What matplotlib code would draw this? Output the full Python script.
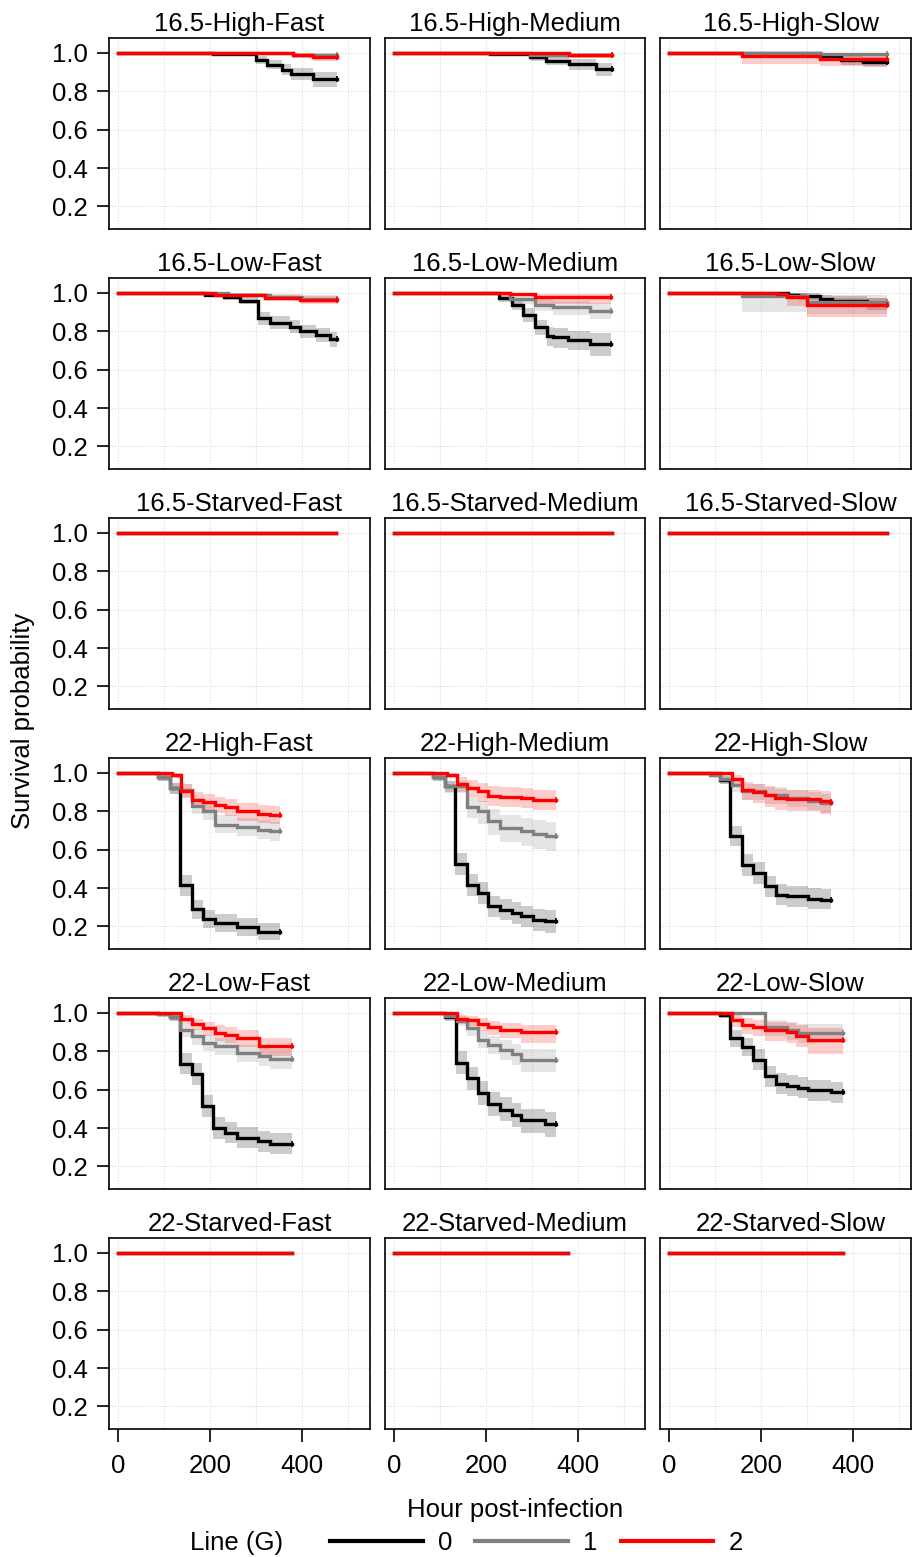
import matplotlib
matplotlib.use("Agg")
import matplotlib.pyplot as plt
from matplotlib.lines import Line2D

plt.rcParams['font.family'] = ['Liberation Sans', 'DejaVu Sans']

# ---------------- categories ----------------
temps = ['16.5', '22']
foods = ['High', 'Low', 'Starved']
speeds = ['Fast', 'Medium', 'Slow']
line_labels = ['0', '1', '2']
line_colors = ['#000000', '#808080', '#FF0000']
x_ticks = [0, 200, 400]
y_ticks = [0.2, 0.4, 0.6, 0.8, 1.0]

# ---------------- data: time, survival, lower CI, upper CI ----------------
# 16.5 - High - Fast
t_165_HF_0 = [0, 207, 301, 323, 356, 377, 424, 475]
s_165_HF_0 = [1, 0.995, 0.965, 0.939, 0.913, 0.892, 0.864, 0.864]
lo_165_HF_0 = [1, 0.985, 0.945, 0.915, 0.885, 0.86, 0.825, 0.825]
hi_165_HF_0 = [1, 1, 0.985, 0.965, 0.94, 0.92, 0.9, 0.9]
t_165_HF_1 = [0, 381, 475]
s_165_HF_1 = [1, 0.99, 0.99]
lo_165_HF_1 = [1, 0.975, 0.975]
hi_165_HF_1 = [1, 1, 1]
t_165_HF_2 = [0, 381, 424, 475]
s_165_HF_2 = [1, 0.99, 0.979, 0.979]
lo_165_HF_2 = [1, 0.975, 0.96, 0.96]
hi_165_HF_2 = [1, 1, 0.995, 0.995]

# 16.5 - High - Medium
t_165_HM_0 = [0, 209, 296, 330, 380, 440, 474]
s_165_HM_0 = [1, 0.995, 0.98, 0.96, 0.94, 0.915, 0.915]
lo_165_HM_0 = [1, 0.985, 0.96, 0.935, 0.91, 0.88, 0.88]
hi_165_HM_0 = [1, 1, 0.995, 0.985, 0.97, 0.95, 0.95]
t_165_HM_1 = [0, 296, 474]
s_165_HM_1 = [1, 0.99, 0.99]
lo_165_HM_1 = [1, 0.975, 0.975]
hi_165_HM_1 = [1, 1, 1]
t_165_HM_2 = [0, 380, 474]
s_165_HM_2 = [1, 0.99, 0.99]
lo_165_HM_2 = [1, 0.975, 0.975]
hi_165_HM_2 = [1, 1, 1]

# 16.5 - High - Slow
t_165_HS_0 = [0, 328, 374, 422, 474]
s_165_HS_0 = [1, 0.985, 0.962, 0.953, 0.953]
lo_165_HS_0 = [1, 0.965, 0.935, 0.925, 0.925]
hi_165_HS_0 = [1, 1, 0.985, 0.98, 0.98]
t_165_HS_1 = [0, 328, 474]
s_165_HS_1 = [1, 0.995, 0.995]
lo_165_HS_1 = [1, 0.98, 0.98]
hi_165_HS_1 = [1, 1, 1]
t_165_HS_2 = [0, 158, 328, 474]
s_165_HS_2 = [1, 0.982, 0.97, 0.97]
lo_165_HS_2 = [1, 0.94, 0.93, 0.93]
hi_165_HS_2 = [1, 1, 0.995, 0.995]

# 16.5 - Low - Fast
t_165_LF_0 = [0, 190, 230, 265, 304, 330, 374, 396, 430, 461, 476]
s_165_LF_0 = [1, 0.99, 0.98, 0.96, 0.87, 0.845, 0.825, 0.80, 0.78, 0.76, 0.76]
lo_165_LF_0 = [1, 0.98, 0.965, 0.94, 0.835, 0.81, 0.79, 0.765, 0.745, 0.72, 0.72]
hi_165_LF_0 = [1, 1, 0.995, 0.98, 0.9, 0.88, 0.86, 0.835, 0.815, 0.795, 0.795]
t_165_LF_1 = [0, 240, 330, 400, 476]
s_165_LF_1 = [1, 0.99, 0.98, 0.97, 0.97]
lo_165_LF_1 = [1, 0.98, 0.965, 0.95, 0.95]
hi_165_LF_1 = [1, 1, 0.995, 0.99, 0.99]
t_165_LF_2 = [0, 211, 320, 396, 476]
s_165_LF_2 = [1, 0.99, 0.975, 0.965, 0.965]
lo_165_LF_2 = [1, 0.98, 0.96, 0.945, 0.945]
hi_165_LF_2 = [1, 1, 0.99, 0.985, 0.985]

# 16.5 - Low - Medium
t_165_LM_0 = [0, 229, 256, 281, 307, 332, 345, 378, 426, 472]
s_165_LM_0 = [1, 0.974, 0.939, 0.887, 0.823, 0.774, 0.769, 0.756, 0.736, 0.736]
lo_165_LM_0 = [1, 0.955, 0.91, 0.85, 0.78, 0.725, 0.715, 0.70, 0.67, 0.67]
hi_165_LM_0 = [1, 0.99, 0.965, 0.92, 0.86, 0.82, 0.815, 0.80, 0.79, 0.79]
t_165_LM_1 = [0, 252, 307, 345, 426, 472]
s_165_LM_1 = [1, 0.969, 0.939, 0.925, 0.908, 0.908]
lo_165_LM_1 = [1, 0.945, 0.905, 0.885, 0.865, 0.865]
hi_165_LM_1 = [1, 0.99, 0.97, 0.96, 0.95, 0.95]
t_165_LM_2 = [0, 252, 307, 472]
s_165_LM_2 = [1, 0.995, 0.979, 0.979]
lo_165_LM_2 = [1, 0.985, 0.945, 0.945]
hi_165_LM_2 = [1, 1, 0.995, 0.995]

# 16.5 - Low - Slow
t_165_LS_0 = [0, 234, 258, 281, 329, 354, 430, 473]
s_165_LS_0 = [1, 0.998, 0.99, 0.985, 0.97, 0.96, 0.945, 0.945]
lo_165_LS_0 = [1, 0.99, 0.975, 0.965, 0.945, 0.93, 0.91, 0.91]
hi_165_LS_0 = [1, 1, 1, 1, 0.99, 0.985, 0.975, 0.975]
t_165_LS_1 = [0, 158, 300, 473]
s_165_LS_1 = [1, 0.985, 0.955, 0.955]
lo_165_LS_1 = [1, 0.9, 0.89, 0.89]
hi_165_LS_1 = [1, 1, 0.99, 0.99]
t_165_LS_2 = [0, 234, 256, 300, 473]
s_165_LS_2 = [1, 0.995, 0.981, 0.939, 0.939]
lo_165_LS_2 = [1, 0.975, 0.93, 0.875, 0.875]
hi_165_LS_2 = [1, 1, 1, 0.975, 0.975]

# 16.5 - Starved (no deaths)
t_165_S = [0, 474]
s_165_S = [1, 1]

# 22 - High - Fast
t_22_HF_0 = [0, 88, 113, 135, 160, 185, 211, 258, 305, 352]
s_22_HF_0 = [1, 0.98, 0.922, 0.417, 0.29, 0.238, 0.217, 0.197, 0.171, 0.171]
lo_22_HF_0 = [1, 0.96, 0.89, 0.36, 0.24, 0.19, 0.17, 0.15, 0.13, 0.13]
hi_22_HF_0 = [1, 0.995, 0.95, 0.47, 0.34, 0.285, 0.265, 0.245, 0.22, 0.22]
t_22_HF_1 = [0, 88, 113, 138, 160, 185, 211, 258, 305, 330, 352]
s_22_HF_1 = [1, 0.98, 0.922, 0.91, 0.829, 0.804, 0.73, 0.718, 0.704, 0.695, 0.695]
lo_22_HF_1 = [1, 0.96, 0.89, 0.875, 0.785, 0.755, 0.685, 0.67, 0.655, 0.645, 0.645]
hi_22_HF_1 = [1, 0.995, 0.95, 0.94, 0.87, 0.845, 0.78, 0.765, 0.755, 0.745, 0.745]
t_22_HF_2 = [0, 117, 138, 160, 185, 211, 232, 258, 305, 330, 352]
s_22_HF_2 = [1, 0.99, 0.908, 0.861, 0.848, 0.835, 0.823, 0.80, 0.788, 0.783, 0.783]
lo_22_HF_2 = [1, 0.975, 0.87, 0.82, 0.805, 0.79, 0.775, 0.75, 0.74, 0.735, 0.735]
hi_22_HF_2 = [1, 1, 0.94, 0.9, 0.89, 0.875, 0.865, 0.845, 0.835, 0.83, 0.83]

# 22 - High - Medium
t_22_HM_0 = [0, 85, 111, 132, 159, 183, 205, 230, 256, 277, 303, 328, 352]
s_22_HM_0 = [1, 0.98, 0.93, 0.527, 0.417, 0.374, 0.304, 0.287, 0.27, 0.252, 0.235, 0.226, 0.226]
lo_22_HM_0 = [1, 0.96, 0.9, 0.47, 0.36, 0.315, 0.25, 0.232, 0.212, 0.195, 0.178, 0.168, 0.168]
hi_22_HM_0 = [1, 0.995, 0.96, 0.585, 0.475, 0.43, 0.36, 0.342, 0.325, 0.308, 0.292, 0.285, 0.285]
t_22_HM_1 = [0, 85, 111, 159, 183, 205, 230, 277, 303, 330, 352]
s_22_HM_1 = [1, 0.98, 0.93, 0.823, 0.80, 0.748, 0.713, 0.696, 0.683, 0.67, 0.67]
lo_22_HM_1 = [1, 0.96, 0.895, 0.765, 0.735, 0.675, 0.64, 0.62, 0.605, 0.595, 0.595]
hi_22_HM_1 = [1, 0.995, 0.96, 0.875, 0.855, 0.81, 0.78, 0.765, 0.755, 0.745, 0.745]
t_22_HM_2 = [0, 115, 136, 159, 183, 205, 230, 277, 303, 352]
s_22_HM_2 = [1, 0.99, 0.944, 0.922, 0.904, 0.882, 0.875, 0.87, 0.861, 0.861]
lo_22_HM_2 = [1, 0.975, 0.9, 0.875, 0.85, 0.83, 0.82, 0.815, 0.805, 0.805]
hi_22_HM_2 = [1, 1, 0.98, 0.965, 0.95, 0.93, 0.925, 0.92, 0.91, 0.91]

# 22 - High - Slow
t_22_HS_0 = [0, 111, 133, 158, 183, 209, 232, 256, 303, 330, 353]
s_22_HS_0 = [1, 0.965, 0.673, 0.521, 0.478, 0.409, 0.365, 0.357, 0.343, 0.339, 0.339]
lo_22_HS_0 = [1, 0.94, 0.62, 0.465, 0.42, 0.355, 0.31, 0.3, 0.29, 0.29, 0.29]
hi_22_HS_0 = [1, 0.985, 0.725, 0.575, 0.535, 0.465, 0.42, 0.41, 0.398, 0.395, 0.395]
t_22_HS_1 = [0, 89, 111, 136, 158, 209, 256, 303, 330, 353]
s_22_HS_1 = [1, 0.99, 0.971, 0.936, 0.904, 0.885, 0.87, 0.855, 0.844, 0.844]
lo_22_HS_1 = [1, 0.975, 0.945, 0.9, 0.86, 0.84, 0.82, 0.805, 0.79, 0.79]
hi_22_HS_1 = [1, 1, 0.99, 0.965, 0.94, 0.925, 0.91, 0.9, 0.89, 0.89]
t_22_HS_2 = [0, 136, 158, 183, 209, 230, 256, 328, 350, 353]
s_22_HS_2 = [1, 0.971, 0.913, 0.90, 0.887, 0.87, 0.865, 0.856, 0.848, 0.848]
lo_22_HS_2 = [1, 0.945, 0.86, 0.845, 0.825, 0.805, 0.8, 0.785, 0.775, 0.775]
hi_22_HS_2 = [1, 0.99, 0.955, 0.945, 0.93, 0.915, 0.91, 0.905, 0.9, 0.9]

# 22 - Low - Fast
t_22_LF_0 = [0, 88, 113, 135, 160, 182, 207, 232, 258, 305, 330, 378]
s_22_LF_0 = [1, 0.995, 0.978, 0.736, 0.683, 0.513, 0.40, 0.374, 0.348, 0.33, 0.318, 0.318]
lo_22_LF_0 = [1, 0.985, 0.96, 0.68, 0.625, 0.455, 0.345, 0.32, 0.295, 0.275, 0.265, 0.265]
hi_22_LF_0 = [1, 1, 0.993, 0.79, 0.74, 0.57, 0.455, 0.43, 0.405, 0.385, 0.375, 0.375]
t_22_LF_1 = [0, 88, 113, 135, 160, 185, 211, 258, 307, 330, 378]
s_22_LF_1 = [1, 0.995, 0.98, 0.913, 0.878, 0.843, 0.826, 0.791, 0.774, 0.762, 0.762]
lo_22_LF_1 = [1, 0.985, 0.96, 0.875, 0.835, 0.8, 0.78, 0.745, 0.725, 0.71, 0.71]
hi_22_LF_1 = [1, 1, 0.995, 0.945, 0.915, 0.885, 0.87, 0.835, 0.82, 0.81, 0.81]
t_22_LF_2 = [0, 138, 160, 185, 211, 232, 258, 307, 378]
s_22_LF_2 = [1, 0.971, 0.945, 0.92, 0.896, 0.887, 0.87, 0.826, 0.826]
lo_22_LF_2 = [1, 0.945, 0.91, 0.88, 0.855, 0.845, 0.825, 0.775, 0.775]
hi_22_LF_2 = [1, 0.99, 0.97, 0.955, 0.935, 0.925, 0.91, 0.87, 0.87]

# 22 - Low - Medium
t_22_LM_0 = [0, 111, 134, 159, 183, 205, 230, 256, 277, 328, 352]
s_22_LM_0 = [1, 0.979, 0.739, 0.66, 0.582, 0.527, 0.496, 0.469, 0.44, 0.42, 0.42]
lo_22_LM_0 = [1, 0.96, 0.68, 0.6, 0.52, 0.465, 0.435, 0.405, 0.375, 0.355, 0.355]
hi_22_LM_0 = [1, 0.993, 0.8, 0.72, 0.645, 0.59, 0.56, 0.53, 0.5, 0.485, 0.485]
t_22_LM_1 = [0, 111, 136, 159, 183, 205, 230, 256, 277, 352]
s_22_LM_1 = [1, 0.986, 0.96, 0.92, 0.861, 0.835, 0.809, 0.788, 0.757, 0.757]
lo_22_LM_1 = [1, 0.97, 0.93, 0.88, 0.815, 0.785, 0.755, 0.73, 0.69, 0.69]
hi_22_LM_1 = [1, 1, 0.985, 0.955, 0.905, 0.88, 0.86, 0.84, 0.81, 0.81]
t_22_LM_2 = [0, 136, 159, 183, 205, 230, 277, 352]
s_22_LM_2 = [1, 0.971, 0.962, 0.944, 0.927, 0.913, 0.90, 0.90]
lo_22_LM_2 = [1, 0.945, 0.93, 0.905, 0.885, 0.87, 0.845, 0.845]
hi_22_LM_2 = [1, 0.99, 0.985, 0.975, 0.96, 0.95, 0.935, 0.935]

# 22 - Low - Slow
t_22_LS_0 = [0, 111, 133, 158, 183, 209, 232, 256, 280, 303, 353, 378]
s_22_LS_0 = [1, 0.99, 0.87, 0.823, 0.757, 0.67, 0.631, 0.62, 0.609, 0.597, 0.586, 0.586]
lo_22_LS_0 = [1, 0.975, 0.825, 0.775, 0.705, 0.615, 0.575, 0.565, 0.555, 0.54, 0.53, 0.53]
hi_22_LS_0 = [1, 1, 0.91, 0.87, 0.81, 0.725, 0.685, 0.675, 0.665, 0.65, 0.64, 0.64]
t_22_LS_1 = [0, 209, 256, 280, 378]
s_22_LS_1 = [1, 0.927, 0.91, 0.897, 0.897]
lo_22_LS_1 = [1, 0.88, 0.86, 0.845, 0.845]
hi_22_LS_1 = [1, 0.965, 0.955, 0.945, 0.945]
t_22_LS_2 = [0, 136, 158, 183, 209, 256, 277, 303, 378]
s_22_LS_2 = [1, 0.962, 0.936, 0.927, 0.91, 0.90, 0.882, 0.861, 0.861]
lo_22_LS_2 = [1, 0.925, 0.89, 0.88, 0.855, 0.845, 0.82, 0.785, 0.785]
hi_22_LS_2 = [1, 0.99, 0.975, 0.965, 0.955, 0.95, 0.935, 0.92, 0.92]

# 22 - Starved (no deaths)
t_22_S = [0, 378]
s_22_S = [1, 1]

G = globals()


def get_series(temp, food, speed, g):
    tk = '165' if temp == '16.5' else '22'
    if food == 'Starved':
        t = G[f't_{tk}_S']
        s = G[f's_{tk}_S']
        return t, s, s, s
    key = f'{tk}_{food[0]}{speed[0]}_{g}'
    return G['t_' + key], G['s_' + key], G['lo_' + key], G['hi_' + key]


# ---------------- layout ----------------
W, H = 913, 1557
fig = plt.figure(figsize=(W / 100, H / 100), dpi=100)
col_left = [109, 385, 660]
col_w = [261, 260, 251]
panel_h = 191
px_per_unit = 0.46
zero_off = 9
y_lim = (0.082, 1.078)
FS = 18.5

rows = [(tp, fd) for tp in temps for fd in foods]
for r, (temp, food) in enumerate(rows):
    top = 38 + 240 * r
    for c, speed in enumerate(speeds):
        ax = fig.add_axes([col_left[c] / W, 1 - (top + panel_h) / H,
                           col_w[c] / W, panel_h / H])
        ax.set_xlim(-zero_off / px_per_unit, (col_w[c] - zero_off) / px_per_unit)
        ax.set_ylim(*y_lim)
        ax.set_xticks(x_ticks)
        ax.set_xticks([100, 300, 500], minor=True)
        ax.set_yticks(y_ticks)
        ax.set_yticklabels([f'{v:.1f}' for v in y_ticks])
        ax.grid(True, which='both', ls=(0, (1, 1.5)), color='#DADADA', lw=0.8, zorder=0)
        ax.set_axisbelow(True)
        for sp in ax.spines.values():
            sp.set_linewidth(1.2)
        ax.tick_params(which='major', length=9, width=1.2, labelsize=FS, pad=6)
        ax.tick_params(axis='x', which='major', pad=9)
        ax.tick_params(which='minor', length=0)
        if c != 0:
            ax.tick_params(axis='y', which='both', left=False, labelleft=False)
        if r != len(rows) - 1:
            ax.tick_params(axis='x', which='both', bottom=False, labelbottom=False)
        # confidence bands
        for g, col in zip(line_labels, line_colors):
            t, s, lo, hi = get_series(temp, food, speed, g)
            ax.fill_between(t, lo, hi, step='post', color=col, alpha=0.2, lw=0, zorder=2)
        # survival curves
        for g, col in zip(line_labels, line_colors):
            t, s, lo, hi = get_series(temp, food, speed, g)
            ax.step(t, s, where='post', color=col, lw=2.4, zorder=3, solid_joinstyle='miter')
            if food != 'Starved':
                ax.plot([t[-1]], [s[-1]], marker='|', ms=4, mew=1.2, color=col, zorder=3)
        ax.set_title(f'{temp}-{food}-{speed}', fontsize=FS, pad=5,
                     x=0.52 if c == 2 else 0.5)

fig.text(23 / W, 1 - 721 / H, 'Survival probability', rotation=90,
         ha='center', va='center', fontsize=FS)
fig.text(515 / W, 1 - 1510 / H, 'Hour post-infection', ha='center', va='center', fontsize=FS)
fig.text(190 / W, 1 - 1543 / H, 'Line (G)', ha='left', va='center', fontsize=FS)
handles = [Line2D([], [], color=col, lw=3) for col in line_colors]
fig.legend(handles, line_labels, loc='center left', bbox_to_anchor=(330 / W, 1 - 1543 / H),
           ncol=3, frameon=False, fontsize=FS, handlelength=3.6, handletextpad=0.6,
           columnspacing=0.9, borderpad=0, borderaxespad=0)

fig.savefig('out.png', dpi=100)
